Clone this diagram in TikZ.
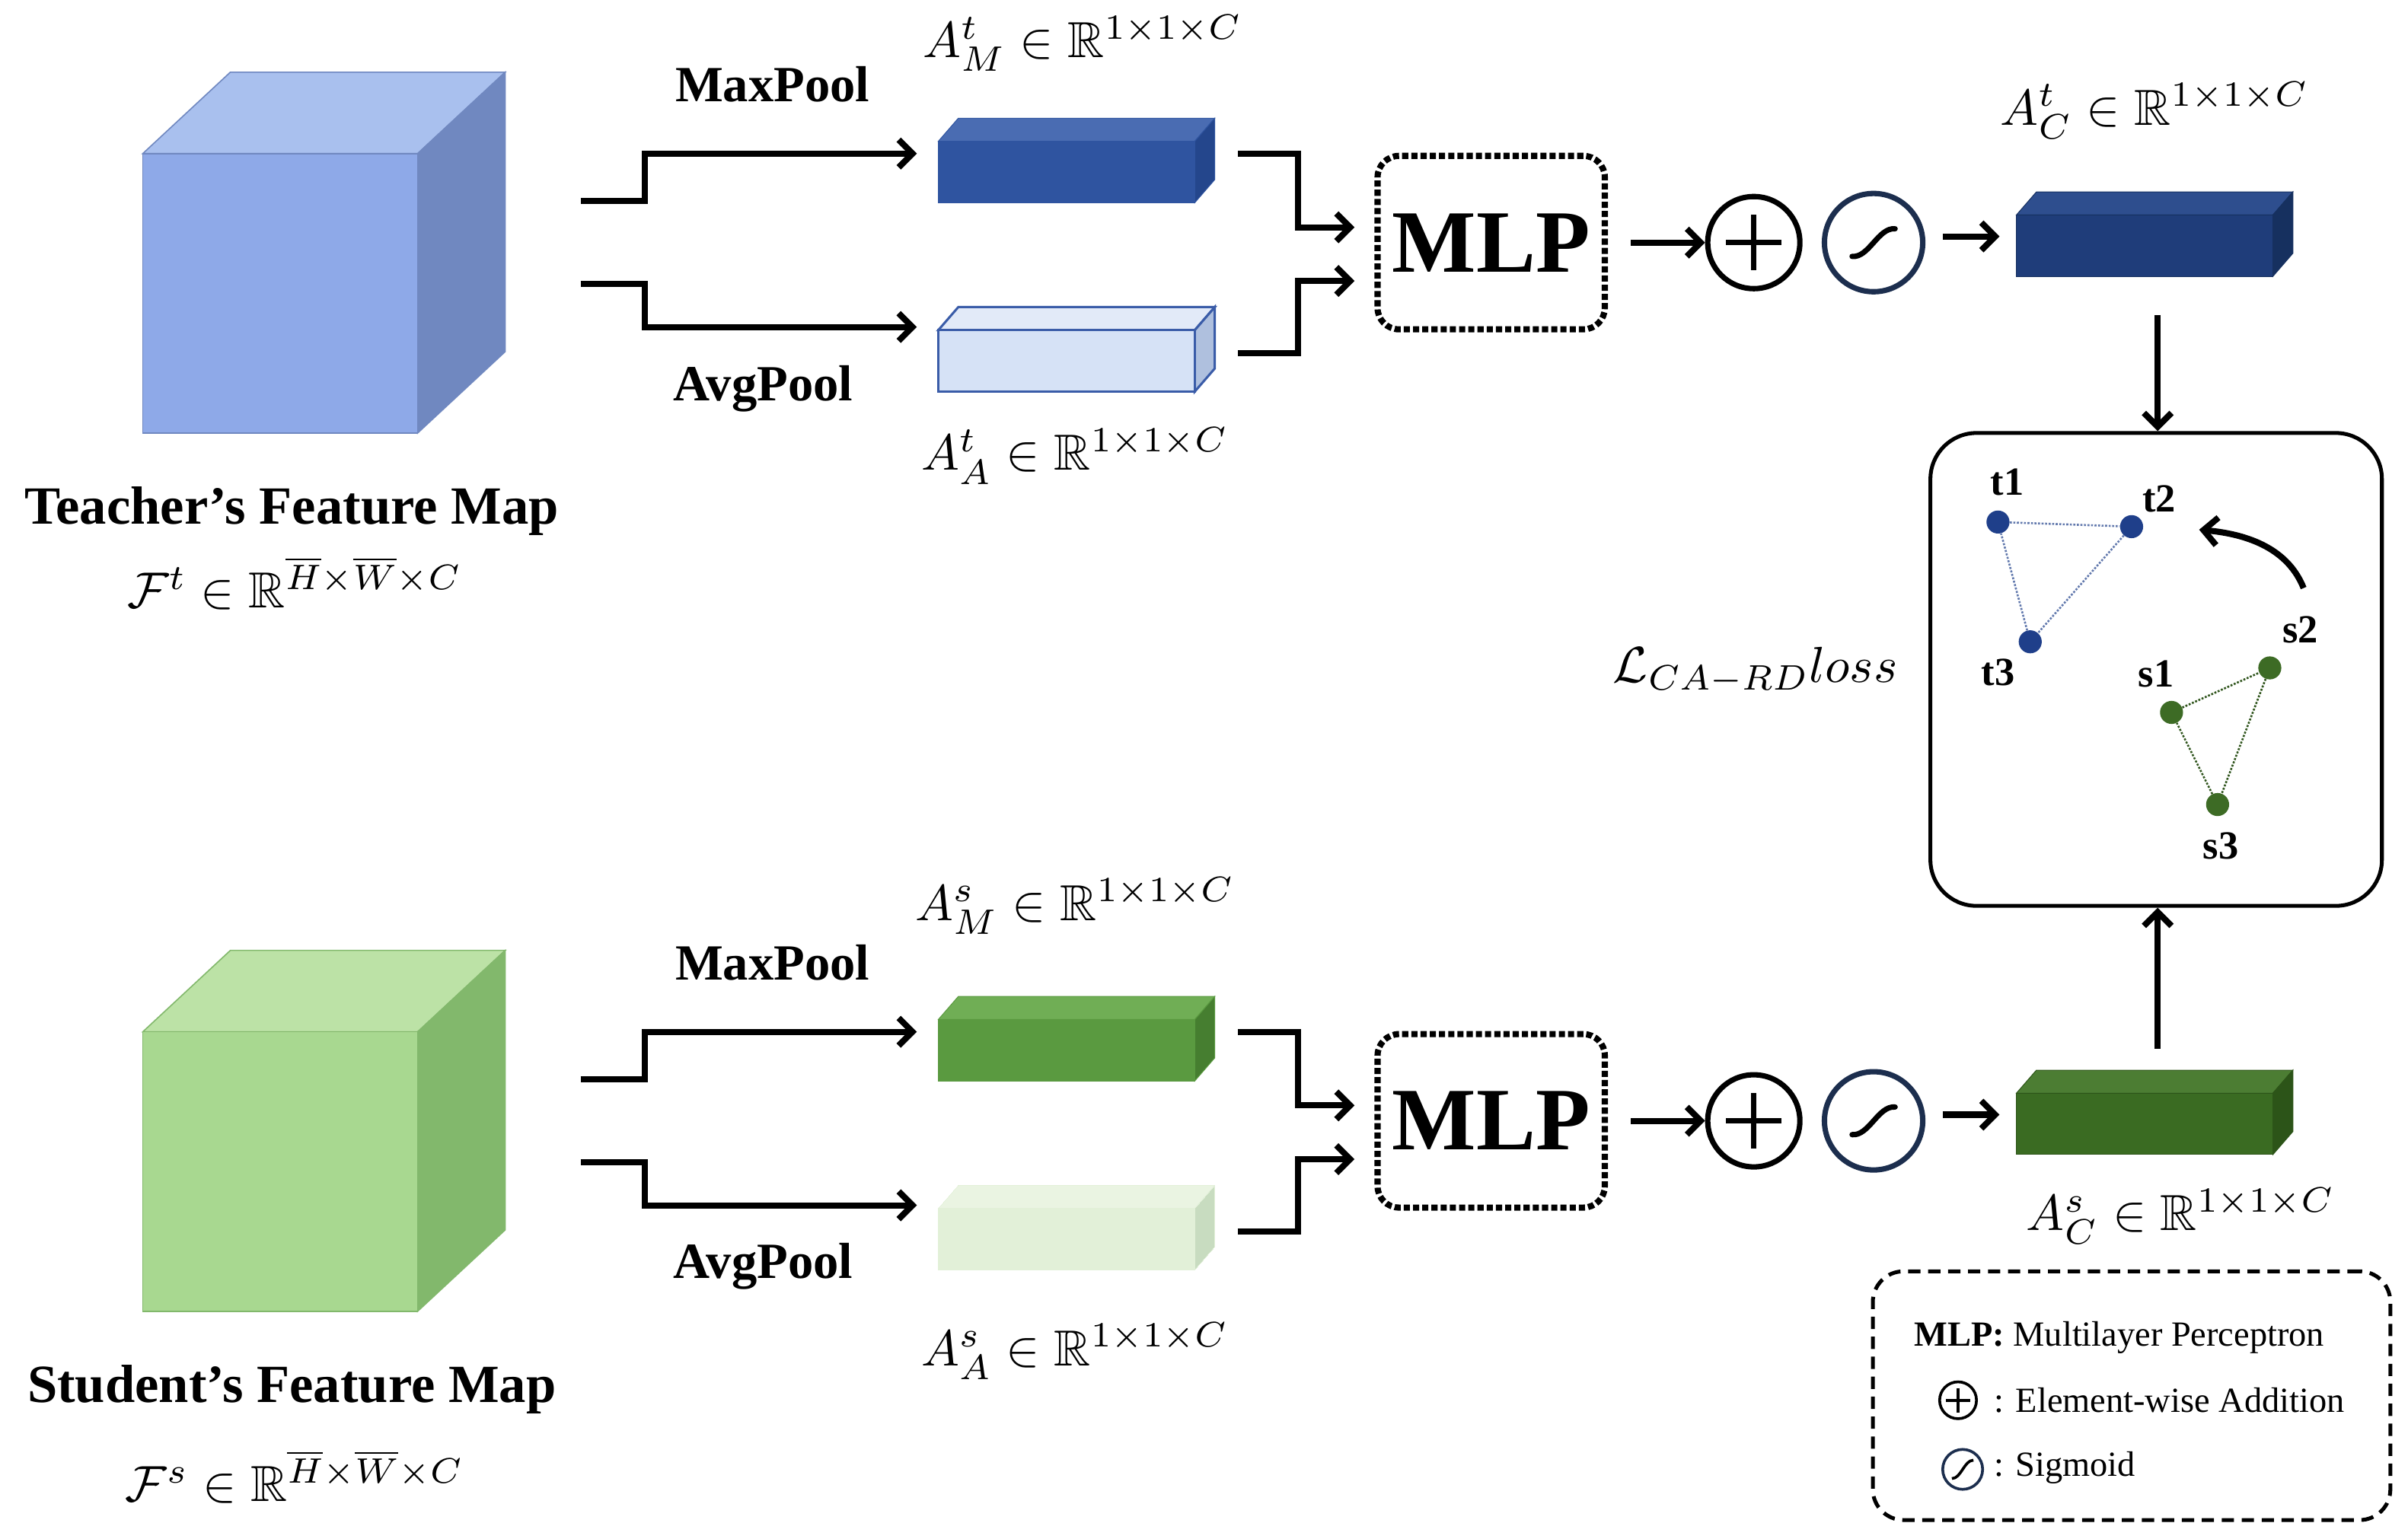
\documentclass[tikz,border=0pt]{standalone}
\usepackage{amssymb}
\usepackage{graphicx}
\usepackage{fontspec}
\setmainfont{Liberation Serif}
\usetikzlibrary{arrows.meta}
\definecolor{tF}{HTML}{8EA9E8}\definecolor{tT}{HTML}{A9C0EE}\definecolor{tS}{HTML}{7088C0}
\definecolor{sF}{HTML}{A8D890}\definecolor{sT}{HTML}{BCE2A6}\definecolor{sS}{HTML}{82B86C}
\definecolor{mF}{HTML}{2F54A0}\definecolor{mT}{HTML}{4A6CB2}\definecolor{mS}{HTML}{24468C}
\definecolor{aF}{HTML}{D6E2F6}\definecolor{aT}{HTML}{E2EAF8}\definecolor{aS}{HTML}{AFC0DE}
\definecolor{cF}{HTML}{1F3D7A}\definecolor{cT}{HTML}{2E4E8E}\definecolor{cS}{HTML}{16305F}
\definecolor{gF}{HTML}{5A9A40}\definecolor{gT}{HTML}{70AE55}\definecolor{gS}{HTML}{467E30}
\definecolor{lF}{HTML}{E2F0D8}\definecolor{lT}{HTML}{EAF4E2}\definecolor{lS}{HTML}{C8DCC0}
\definecolor{dF}{HTML}{3A6B22}\definecolor{dT}{HTML}{4C7D33}\definecolor{dS}{HTML}{2C5418}
\definecolor{tn}{HTML}{1F3F8A}\definecolor{sn}{HTML}{3D6B25}\definecolor{sig}{HTML}{1C2E4E}
\definecolor{tS2}{HTML}{3A5CA8}
\newcommand{\cuboid}[9]{%
 \fill[#7T,draw=#8,line width=#9] (#1,#2)--++(#5,-#6)--++(#3,0)--(#1+#3,#2)--cycle;
 \fill[#7S,draw=#8,line width=#9] (#1+#3,#2)--++(#5,-#6)--++(0,#4)--(#1+#3,#2+#4)--cycle;
 \fill[#7F,draw=#8,line width=#9] (#1,#2) rectangle ++(#3,#4);}
\newcommand{\mymath}[1]{\scalebox{3.3}{$#1$}}
\tikzset{
 flow/.style={line width=4pt,-{Straight Barb[length=9pt,width=18pt,line width=4pt]}},
 lbl/.style={font=\fontsize{33}{38}\selectfont\bfseries},
 ttl/.style={font=\fontsize{35}{40}\selectfont\bfseries},
 mlp/.style={draw,line width=4pt,dotted,rounded corners=14pt,minimum width=148pt,minimum height=113pt,font=\fontsize{58}{64}\selectfont\bfseries},
 circ/.style={circle,draw,line width=3.5pt,minimum size=60pt,inner sep=0pt},
 pt/.style={circle,inner sep=0pt,minimum size=15pt},
 ptl/.style={font=\fontsize{26}{30}\selectfont\bfseries},
 leg/.style={font=\fontsize{23}{27}\selectfont,anchor=west},
}
\newcommand{\sigm}[2]{\draw[line width=3.5pt,line cap=round] (#1-14,#2+9) .. controls (#1-3,#2+10) and (#1+3,#2-10) .. (#1+14,#2-9);}
\begin{document}
\begin{tikzpicture}[x=1pt,y=-1pt]
\useasboundingbox (0,0) rectangle (1568,1002);
\foreach \o/\c/\m/\a/\fin/\ast/\aw/\t/\ft in {0/t/m/a/c/tS2/1.5pt/Teacher's/t,572/s/g/l/d/lF/0pt/Student's/s}{
 \cuboid{93}{100+\o}{179}{182}{57}{53}{\c}{\c S}{0.8pt}
 \cuboid{611}{92+\o}{167}{40}{13}{15}{\m}{\m F}{0.5pt}
 \cuboid{611}{215+\o}{167}{40}{13}{15}{\a}{\ast}{\aw}
 \node[ttl] (fm\ft) at (190,333+\o) {\t\ Feature Map};
 \node[lbl] (mp\ft) at (503,55+\o) {MaxPool};
 \node[lbl] (ap\ft) at (497,253+\o) {AvgPool};
 \coordinate (in1\ft) at (378,131+\o); \coordinate (bm\ft) at (597,100+\o);
 \coordinate (in2\ft) at (378,185+\o); \coordinate (ba\ft) at (597,213+\o);
 \draw[flow] (in1\ft) -- (420,131+\o) -- (420,100+\o) -- (bm\ft);
 \draw[flow] (in2\ft) -- (420,185+\o) -- (420,213+\o) -- (ba\ft);
 \node[mlp] (mlp\ft) at (971,158+\o) {MLP};
 \draw[flow] (806,100+\o) -- (845,100+\o) -- (845,148+\o) -- (882,148+\o);
 \draw[flow] (806,230+\o) -- (845,230+\o) -- (845,183+\o) -- (882,183+\o);
 \node[circ] (pl\ft) at (1142,158+\o) {};
 \draw[line width=3.5pt] (1124,158+\o)--(1160,158+\o) (1142,140+\o)--(1142,176+\o);
 \node[circ,draw=sig,minimum size=64pt] (sg\ft) at (1220,158+\o) {};
 \sigm{1220}{158+\o}
 \draw[flow] (1062,158+\o) -- (pl\ft);
 \draw[flow] (1265,154+\o) -- (1302,154+\o);
 \cuboid{1313}{140+\o}{167}{40}{13}{15}{\fin}{\fin S}{0.5pt}
}
\node (ft) at (192,380) {\mymath{\mathcal{F}^t\in\mathbb{R}^{\overline{H}\times\overline{W}\times C}}};
\node (fs) at (192,962) {\mymath{\mathcal{F}^s\in\mathbb{R}^{\overline{H}\times\overline{W}\times C}}};
\node (amt) at (705,28) {\mymath{A^t_M\in\mathbb{R}^{1\times1\times C}}};
\node (aat) at (700,297) {\mymath{A^t_A\in\mathbb{R}^{1\times1\times C}}};
\node (act) at (1403,72) {\mymath{A^t_C\in\mathbb{R}^{1\times1\times C}}};
\node (ams) at (700,590) {\mymath{A^s_M\in\mathbb{R}^{1\times1\times C}}};
\node (aas) at (700,880) {\mymath{A^s_A\in\mathbb{R}^{1\times1\times C}}};
\node (acs) at (1420,792) {\mymath{A^s_C\in\mathbb{R}^{1\times1\times C}}};
\node (loss) at (1143,437) {\mymath{\mathcal{L}_{CA-RD}loss}};
\node[draw,line width=2.5pt,rounded corners=30pt,minimum width=294pt,minimum height=308pt] (gbox) at (1404,436) {};
\draw[flow] (1405,205) -- (gbox.north-|1405,0);
\draw[flow] (1405,683) -- (gbox.south-|1405,0);
\node[pt,fill=tn] (t1) at (1301,340) {};
\node[pt,fill=tn] (t2) at (1388,343) {};
\node[pt,fill=tn] (t3) at (1322,418) {};
\node[pt,fill=sn] (s1) at (1414,464) {};
\node[pt,fill=sn] (s2) at (1478,435) {};
\node[pt,fill=sn] (s3) at (1444,524) {};
\draw[densely dotted,line width=1.3pt,tn!70] (t1)--(t2)--(t3)--(t1);
\draw[densely dotted,line width=1.3pt,sn!80!black] (s1)--(s2)--(s3)--(s1);
\node[ptl] at (1307,314) {t1}; \node[ptl] at (1406,325) {t2}; \node[ptl] at (1301,438) {t3};
\node[ptl] at (1404,439) {s1}; \node[ptl] at (1498,410) {s2}; \node[ptl] at (1446,551) {s3};
\coordinate (cs) at (1500,383); \coordinate (ce) at (1432,345);
\draw[flow] (cs) .. controls (1490,358) and (1465,348) .. (ce);
\node[draw,line width=2.5pt,dash pattern=on 8pt off 5pt,rounded corners=20pt,minimum width=337pt,minimum height=162pt] (legbox) at (1388,909) {};
\node[leg] (l1) at (1243,871) {\textbf{MLP:} Multilayer Perceptron};
\node[circle,draw,line width=1.8pt,minimum size=24pt,inner sep=0pt] (lc1) at (1275,912) {};
\draw[line width=1.8pt] (1267,912)--(1283,912) (1275,904)--(1275,920);
\node[leg] (l2) at (1295,912) {: Element-wise Addition};
\node[circle,draw=sig,line width=1.8pt,minimum size=26pt,inner sep=0pt] (lc2) at (1278,957) {};
\draw[line width=1.8pt] (1271,963) .. controls (1277,963) and (1279,951) .. (1285,951);
\node[leg] (l3) at (1295,956) {: Sigmoid};
\end{tikzpicture}
\end{document}
